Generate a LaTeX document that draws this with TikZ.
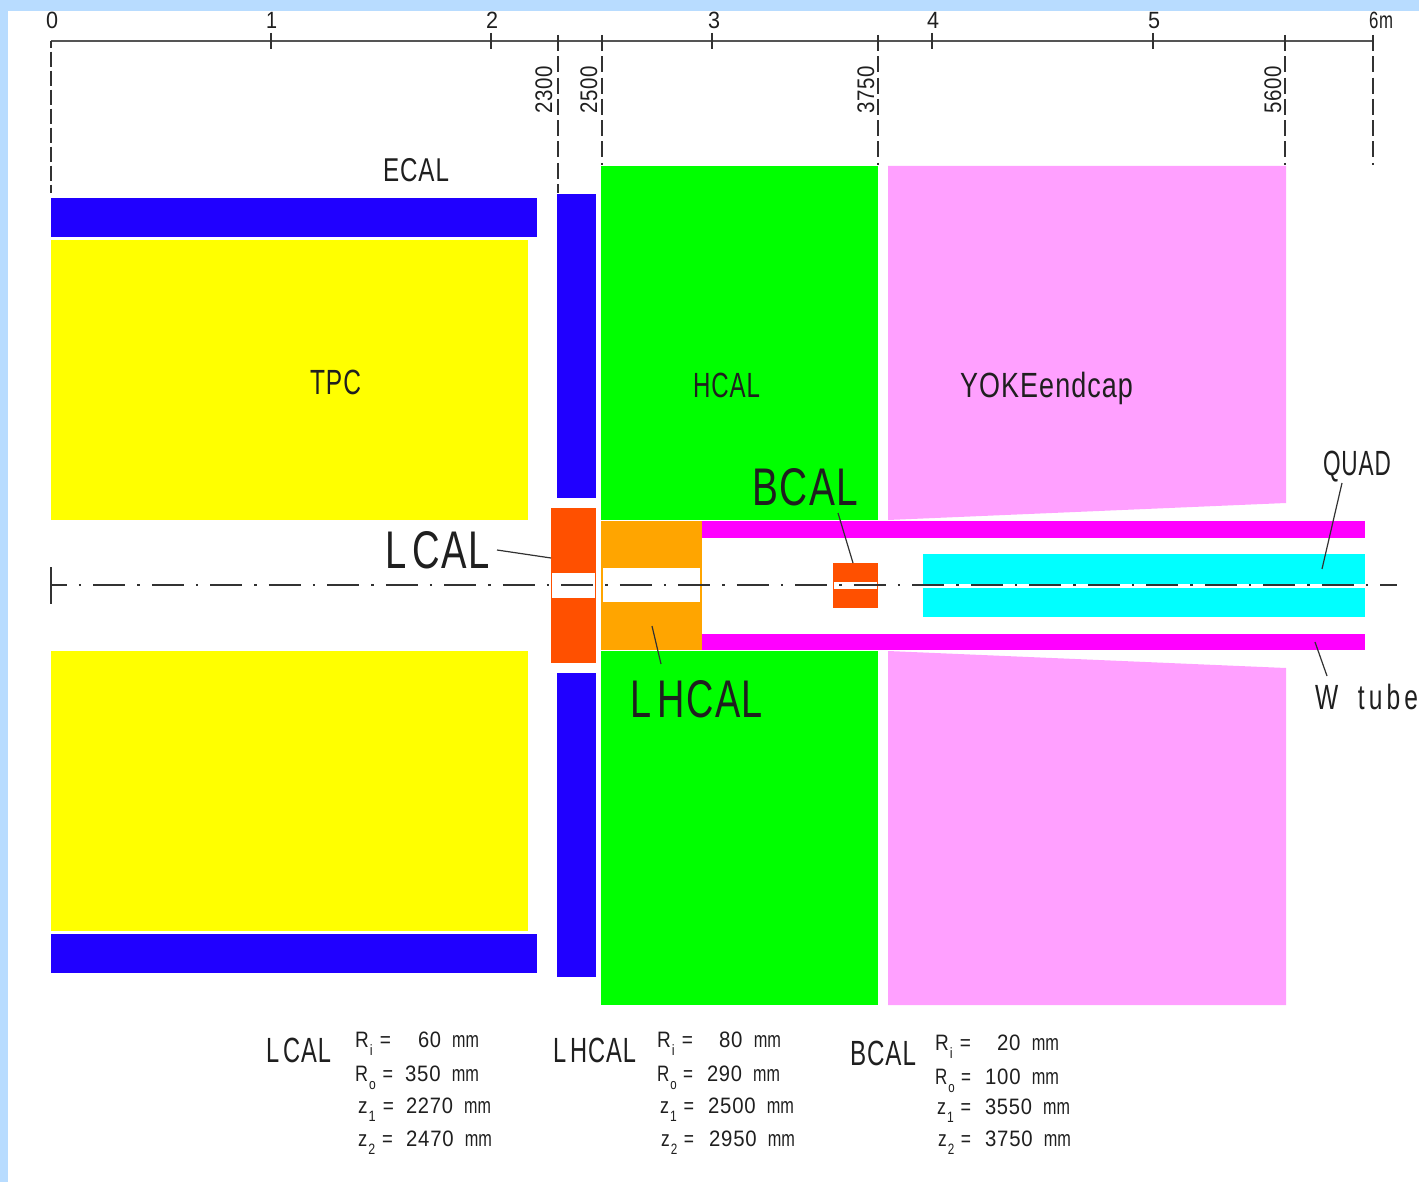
\documentclass[tikz,border=0pt]{standalone}
\usepackage{graphicx}
\usepackage{fontspec}
\setmainfont{Liberation Sans}
% \lbl[opts]{name}{x}{baseline y}{width}{font size}{text}
\newcommand{\lbl}[7][]{\node[cadtext,#1] (#2) at (#3,#4) {\resizebox{#5pt}{\height}{\fontsize{#6}{#6}\selectfont\addfontfeature{LetterSpace=4}#7}};}
\newcommand{\subs}[1]{\hspace{0.06em}\raisebox{-0.36em}{\fontsize{15}{15}\selectfont #1}\hspace{0.06em}}
\newcommand{\mmv}[1]{#1\hspace{0.55em}\scalebox{0.8}[1]{\addfontfeature{LetterSpace=0}mm}}
\definecolor{pageblue}{RGB}{184,220,255}
\definecolor{ecalblue}{RGB}{32,0,255}
\definecolor{tpcyellow}{RGB}{255,255,0}
\definecolor{hcalgreen}{RGB}{0,255,0}
\definecolor{yokepink}{RGB}{255,160,255}
\definecolor{calred}{RGB}{255,80,0}
\definecolor{lhorange}{RGB}{255,165,0}
\definecolor{tubemagenta}{RGB}{255,0,255}
\definecolor{quadcyan}{RGB}{0,255,255}
\definecolor{inkgrey}{RGB}{50,50,50}
\definecolor{scalegrey}{RGB}{85,85,85}
\tikzset{
  cadtext/.style={anchor=base west,inner sep=0pt,outer sep=0pt,text=black!88},
  scaleline/.style={draw=scalegrey,line width=2pt},
  tickline/.style={draw=inkgrey,line width=1.2pt},
  dimline/.style={draw=inkgrey,line width=1.3pt,dash pattern=on 16pt off 5.3pt},
  zeroline/.style={draw=inkgrey,line width=1.3pt,dash pattern=on 15.5pt off 3.5pt,dash phase=8.3pt},
  axisline/.style={draw=inkgrey,line width=1.2pt,dash pattern=on 32pt off 12pt on 2.5pt off 12pt,dash phase=16.2pt},
  leader/.style={draw=inkgrey,line width=1.2pt},
}
\begin{document}
\begin{tikzpicture}[x=1pt,y=-1pt]
\useasboundingbox (0,0) rectangle (1419,1182);
\fill[pageblue] (0,0) rectangle (1419,1182);
\fill[white] (8,11) rectangle (1419,1182);
% TPC
\fill[tpcyellow] (51,240) rectangle (528,520);
\fill[tpcyellow] (51,651) rectangle (528,931);
% ECAL barrel and endcap
\fill[ecalblue] (51,198) rectangle (537,237);
\fill[ecalblue] (51,934) rectangle (537,973);
\fill[ecalblue] (557,194) rectangle (596,498);
\fill[ecalblue] (557,673) rectangle (596,977);
% HCAL
\fill[hcalgreen] (601,166) rectangle (878,520);
\fill[hcalgreen] (601,651) rectangle (878,1005);
% Yoke
\fill[yokepink] (888,166) -- (1286,166) -- (1286,503) -- (888,520) -- cycle;
\fill[yokepink] (888,651) -- (1286,668) -- (1286,1005) -- (888,1005) -- cycle;
% LCAL
\fill[calred] (551,508) rectangle (596,663);
\fill[white] (552,573) rectangle (595,598);
% LHCAL
\fill[lhorange] (601,521) rectangle (702,650);
\fill[white] (603,568) rectangle (700,602);
% BCAL
\fill[calred] (833,563) rectangle (878,608);
\fill[white] (834,582) rectangle (877,589);
% W tube
\fill[tubemagenta] (702,521) rectangle (1365,538);
\fill[tubemagenta] (702,634) rectangle (1365,650);
% QUAD
\fill[quadcyan] (923,554) rectangle (1365,584);
\fill[quadcyan] (923,588) rectangle (1365,617);
% scale
\coordinate (axL) at (51,41); \coordinate (axR) at (1373,41);
\draw[scaleline] (axL) -- (axR);
\foreach \tx in {271,491,712,932,1153}{\draw[tickline] (\tx,33) -- (\tx,49);}
\draw[zeroline] (51,41) -- (51,193);
\foreach \tx/\ty in {558/193,602/165,878/165,1285/165,1373/165}{\draw[dimline] (\tx,35) -- (\tx,\ty);}
% centre line
\coordinate (clL) at (51,585); \coordinate (clR) at (1397,585);
\draw[axisline] (clL) -- (clR);
\draw[tickline] (51,567) -- (51,604);
% scale labels
\lbl{s0}{46}{29}{12}{23.5}{0}
\lbl{s1}{266}{29}{11}{23.5}{1}
\lbl{s2}{486}{29}{12}{23.5}{2}
\lbl{s3}{708}{29}{12}{23.5}{3}
\lbl{s4}{927}{29}{12}{23.5}{4}
\lbl{s5}{1148}{29}{12}{23.5}{5}
\lbl{s6}{1369}{29}{24}{23.5}{6m}
\lbl[rotate=90]{d2300}{552}{114}{48}{24}{2300}
\lbl[rotate=90]{d2500}{597}{114}{48}{24}{2500}
\lbl[rotate=90]{d3750}{874}{114}{48}{24}{3750}
\lbl[rotate=90]{d5600}{1281}{114}{48}{24}{5600}
% region labels
\lbl{ecal}{383}{182}{66}{33}{ECAL}
\lbl{tpc}{310}{394}{51}{35}{TPC}
\lbl{hcal}{693}{397}{67}{35}{HCAL}
\lbl{yoke}{960}{397}{173}{35}{YOKEendcap}
\lbl{quad}{1323}{475}{68}{35}{QUAD}
\lbl{wtube}{1315}{709}{103}{35}{W\ \ \,t\,u\,b\,e}
\lbl{lcalbig}{385}{568}{105}{53}{L\,CAL}
\lbl{bcalbig}{752}{505}{106}{53}{BCAL}
\lbl{lhcalbig}{630}{717}{133}{53}{L\,HCAL}
% leaders
\coordinate (lcalA) at (497,550); \coordinate (lcalB) at (551,558);
\draw[leader] (lcalA) -- (lcalB);
\coordinate (bcalA) at (838,513); \coordinate (bcalB) at (853,563);
\draw[leader] (bcalA) -- (bcalB);
\coordinate (lhA) at (652,626); \coordinate (lhB) at (661,664);
\draw[leader] (lhA) -- (lhB);
\coordinate (quadA) at (1342,483); \coordinate (quadB) at (1322,569);
\draw[leader] (quadA) -- (quadB);
\coordinate (wA) at (1315,642); \coordinate (wB) at (1327,676);
\draw[leader] (wA) -- (wB);
% parameter tables
\lbl{tl}{266}{1062}{65}{35}{L\,CAL}
\lbl{tla}{355}{1047}{36}{22.3}{R\subs{i} =}
\lbl{tlb}{355}{1081}{38}{22.3}{R\subs{o} =}
\lbl{tlc}{358}{1113}{36}{22.3}{z\subs{1} =}
\lbl{tld}{358}{1146}{35}{22.3}{z\subs{2} =}
\lbl{tlav}{418}{1047}{61}{22.3}{\mmv{60}}
\lbl{tlbv}{405}{1081}{74}{22.3}{\mmv{350}}
\lbl{tlcv}{406}{1113}{85}{22.3}{\mmv{2270}}
\lbl{tldv}{406}{1146}{86}{22.3}{\mmv{2470}}
\lbl{th}{553}{1062}{83}{35}{L\,HCAL}
\lbl{tha}{657}{1047}{36}{22.3}{R\subs{i} =}
\lbl{thb}{657}{1081}{36}{22.3}{R\subs{o} =}
\lbl{thc}{660}{1113}{34}{22.3}{z\subs{1} =}
\lbl{thd}{661}{1146}{33}{22.3}{z\subs{2} =}
\lbl{thav}{719}{1047}{62}{22.3}{\mmv{80}}
\lbl{thbv}{707}{1081}{73}{22.3}{\mmv{290}}
\lbl{thcv}{708}{1113}{86}{22.3}{\mmv{2500}}
\lbl{thdv}{709}{1146}{86}{22.3}{\mmv{2950}}
\lbl{tb}{850}{1065}{66}{35}{BCAL}
\lbl{tba}{935}{1050}{36}{22.3}{R\subs{i} =}
\lbl{tbb}{935}{1084}{36}{22.3}{R\subs{o} =}
\lbl{tbc}{937}{1114}{34}{22.3}{z\subs{1} =}
\lbl{tbd}{938}{1146}{33}{22.3}{z\subs{2} =}
\lbl{tbav}{997}{1050}{62}{22.3}{\mmv{20}}
\lbl{tbbv}{985}{1084}{74}{22.3}{\mmv{100}}
\lbl{tbcv}{985}{1114}{85}{22.3}{\mmv{3550}}
\lbl{tbdv}{985}{1146}{86}{22.3}{\mmv{3750}}
\end{tikzpicture}
\end{document}
